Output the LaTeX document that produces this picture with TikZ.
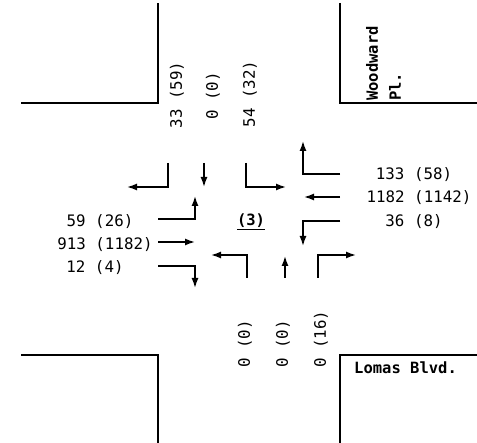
\documentclass[tikz,border=0pt]{standalone}
\usepackage{fontspec}
\setmonofont{DejaVu Sans Mono}
\usepackage{tikz}
\usetikzlibrary{arrows.meta}
\tikzset{
  >={Latex[length=10pt,width=7pt]},
  road/.style={line width=1.5pt, black},
  mvt/.style={->, line width=1.5pt, black},
  vol/.style={font=\ttfamily\fontsize{15.8}{18}\selectfont, inner sep=0pt},
  street/.style={font=\ttfamily\bfseries\fontsize{15.5}{23}\selectfont,
                 inner sep=0pt, align=left},
}
\begin{document}
\begin{tikzpicture}[x=1pt, y=-1pt]
  \useasboundingbox (0,0) rectangle (477,443);

  % curb lines
  \draw[road] (21,103) -- (158,103) -- (158,3);
  \draw[road] (340,3) -- (340,103) -- (477,103);
  \draw[road] (21,355) -- (158,355) -- (158,443);
  \draw[road] (340,443) -- (340,355) -- (477,355);

  % street names
  \node[street, rotate=90, anchor=north west] (woodward) at (366,101)
    {Woodward\\Pl.};
  \node[street, anchor=west] (lomas) at (354,368) {Lomas Blvd.};

  % intersection id
  \node[vol, font=\ttfamily\bfseries\fontsize{15.5}{18}\selectfont]
    (id) at (251,222) {\underline{(3)}};

  % southbound approach
  \node[vol, rotate=90] (sbR) at (177,95) {33 (59)};
  \node[vol, rotate=90] (sbT) at (213,96) {0 (0)};
  \node[vol, rotate=90] (sbL) at (250,94) {54 (32)};
  \draw[mvt] (168,163) |- (127,187);
  \draw[mvt] (204,163) -- (204,187);
  \draw[mvt] (246,163) |- (286,187);

  % westbound approach
  \node[vol] (wbR) at (414,175) {133 (58)};
  \node[vol] (wbT) at (419,198) {1182 (1142)};
  \node[vol] (wbL) at (414,222) {36 (8)};
  \draw[mvt] (340,174) -| (303,141);
  \draw[mvt] (340,197) -- (304,197);
  \draw[mvt] (340,221) -| (303,246);

  % eastbound approach
  \node[vol] (ebL) at (100,222) {59 (26)};
  \node[vol] (ebT) at (105,245) {913 (1182)};
  \node[vol] (ebR) at (95,268) {12 (4)};
  \draw[mvt] (158,219) -| (195,196);
  \draw[mvt] (158,242) -- (195,242);
  \draw[mvt] (158,266) -| (195,288);

  % northbound approach
  \node[vol, rotate=90, anchor=west] (nbL) at (245,368) {0 (0)};
  \node[vol, rotate=90, anchor=west] (nbT) at (283,368) {0 (0)};
  \node[vol, rotate=90, anchor=west] (nbR) at (321,368) {0 (16)};
  \draw[mvt] (247,278) |- (211,255);
  \draw[mvt] (285,278) -- (285,256);
  \draw[mvt] (318,278) |- (356,255);
\end{tikzpicture}
\end{document}
